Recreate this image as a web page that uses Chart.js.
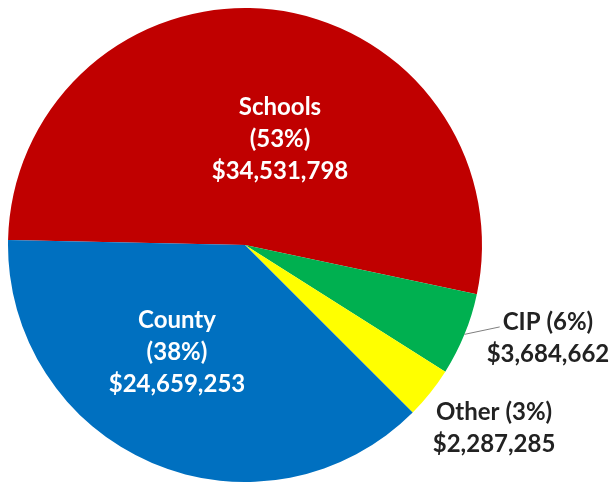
<!DOCTYPE html>
<html>
<head>
<meta charset="utf-8">
<script src="https://cdn.jsdelivr.net/npm/chart.js@4"></script>
<style>
  html, body { margin: 0; padding: 0; background: #ffffff; }
  #wrap { width: 613px; height: 482px; }
</style>
</head>
<body>
<div id="wrap"><canvas id="budgetChart" width="613" height="482"></canvas></div>
<script>
// Budget split pie
const categories = ['Schools', 'CIP', 'Other', 'County'];
const amounts = [34531798, 3684662, 2287285, 24659253];
const percentLabels = ['53%', '6%', '3%', '38%'];
const sliceColors = ['#C00000', '#00B050', '#FFFF00', '#0070C0'];

// where each label sits: radius factor and angle shift (deg) from slice middle
const labelLayout = [
    { r: 0.468, shift: 11.8, inside: true },
    { r: 1.337, shift: -5.1, inside: false, leader: true },
    { r: 1.304, shift: -2.35, inside: false },
    { r: 0.536, shift: 9.3, inside: true }
];

function money(v) {
    return '$' + v.toLocaleString('en-US');
}

const sliceLabels = {
    id: 'sliceLabels',
    afterDatasetsDraw(chart) {
        const ctx = chart.ctx;
        const meta = chart.getDatasetMeta(0);
        ctx.save();
        ctx.font = 'bold 24px Lato';
        ctx.textAlign = 'center';
        ctx.textBaseline = 'middle';
        meta.data.forEach((arc, i) => {
            const p = arc.getProps(['x', 'y', 'startAngle', 'endAngle', 'outerRadius'], true);
            const mid = (p.startAngle + p.endAngle) / 2;
            const lay = labelLayout[i];
            const a = mid + lay.shift * Math.PI / 180;
            const cx = p.x + Math.cos(a) * p.outerRadius * lay.r;
            const cy = p.y + Math.sin(a) * p.outerRadius * lay.r;
            let lines;
            if (lay.inside) {
                ctx.fillStyle = '#ffffff';
                lines = [categories[i], '(' + percentLabels[i] + ')', money(amounts[i])];
            } else {
                ctx.fillStyle = '#222222';
                lines = [categories[i] + ' (' + percentLabels[i] + ')', money(amounts[i])];
            }
            const lh = 32;
            const top = cy - (lines.length - 1) * lh / 2;
            lines.forEach((t, k) => ctx.fillText(t, cx, top + k * lh));

            if (lay.leader) {
                const ex = p.x + Math.cos(mid) * p.outerRadius;
                const ey = p.y + Math.sin(mid) * p.outerRadius;
                const w = ctx.measureText(lines[0]).width;
                ctx.strokeStyle = '#7f7f7f';
                ctx.lineWidth = 1;
                ctx.beginPath();
                ctx.moveTo(ex, ey);
                ctx.lineTo(cx - w / 2 - 3, top + 5);
                ctx.stroke();
            }
        });
        ctx.restore();
    }
};

new Chart(document.getElementById('budgetChart'), {
    type: 'pie',
    data: {
        labels: categories,
        datasets: [{
            data: amounts,
            backgroundColor: sliceColors,
            borderWidth: 0
        }]
    },
    options: {
        responsive: false,
        animation: false,
        rotation: 271.2,
        layout: { padding: { left: 8, right: 131, top: 8, bottom: 0 } },
        plugins: {
            legend: { display: false },
            tooltip: { enabled: false }
        }
    },
    plugins: [sliceLabels]
});
</script>
</body>
</html>
